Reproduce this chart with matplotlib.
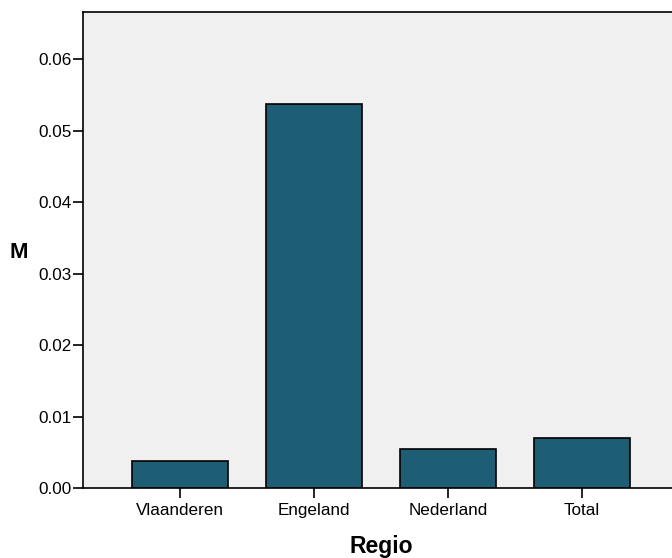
import matplotlib
matplotlib.use("Agg")
import matplotlib.pyplot as plt

categories = ["Vlaanderen", "Engeland", "Nederland", "Total"]
values = [0.0038, 0.0537, 0.0054, 0.0070]
yticks = [0.00, 0.01, 0.02, 0.03, 0.04, 0.05, 0.06]

plt.rcParams['font.family'] = ['Liberation Sans', 'DejaVu Sans']

fig = plt.figure(figsize=(6.72, 5.58), dpi=100)
ax = fig.add_axes([83/672, 70/558, 596/672, 476/558])
ax.set_facecolor("#f0f0f0")
x = list(range(len(categories)))
ax.bar(x, values, width=0.716, color="#1e5e74", edgecolor="black", linewidth=1.2, zorder=3)
ax.set_xlim(-0.724, 3.724)
ax.set_ylim(0, 0.0666)
ax.set_yticks(yticks)
ax.set_yticklabels([f"{v:.2f}" for v in yticks])
ax.set_xticks(x)
ax.set_xticklabels(categories)
ax.tick_params(axis="both", direction="out", length=7, width=1.2, labelsize=12.3, pad=1)
ax.tick_params(axis="x", pad=4)
for s in ["left", "bottom", "top"]:
    ax.spines[s].set_linewidth(1.2)
ax.spines["right"].set_visible(False)
fig.text(19/672, 1 - 253/558, "M", fontsize=16, fontweight="bold", ha="center", va="center")
fig.text(381/672, 1 - 546/558, "Regio", fontsize=16.5, fontweight="bold", ha="center", va="center")
fig.savefig("out.png", dpi=100)
